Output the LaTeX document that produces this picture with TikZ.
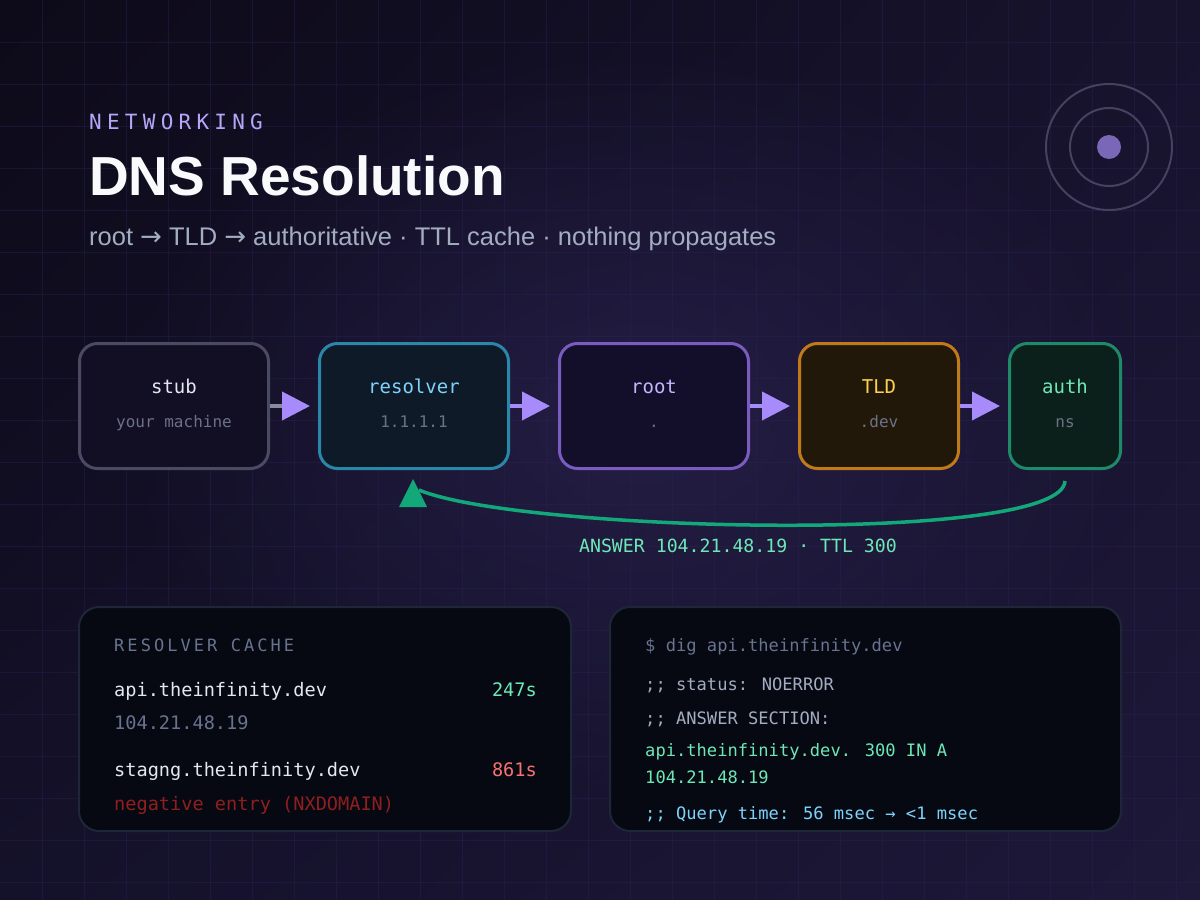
\documentclass[tikz,border=0pt]{standalone}
\usepackage{fontspec}
\setmainfont{Liberation Sans}
\newfontfamily\mono{DejaVu Sans Mono}
\newfontfamily\monoW[LetterSpace=25]{DejaVu Sans Mono}
\newfontfamily\monoM[LetterSpace=18]{DejaVu Sans Mono}
\newfontfamily\symf{DejaVu Sans}
\usetikzlibrary{arrows.meta,fadings,shadings}
\newcommand\fsz[1]{\fontsize{#1}{#1}\selectfont}
\newcommand\rarr{{\symf\fontsize{26}{26}\selectfont →}}
\definecolor{bgA}{HTML}{0D0A19}
\definecolor{bgB}{HTML}{17132D}
\definecolor{bgC}{HTML}{14112A}
\definecolor{bgD}{HTML}{1E1839}
\definecolor{glow}{HTML}{2A2350}
\definecolor{gridc}{HTML}{2A2458}
\definecolor{kicker}{HTML}{B6A6F7}
\definecolor{titlec}{HTML}{F8FAFC}
\definecolor{subc}{HTML}{A3ADC2}
\definecolor{ringc}{HTML}{44425F}
\definecolor{dotc}{HTML}{7B67B8}
\definecolor{stubB}{HTML}{4A4A62}\definecolor{stubF}{HTML}{120E24}\definecolor{stubT}{HTML}{E2E8F0}
\definecolor{resB}{HTML}{2A87A8}\definecolor{resF}{HTML}{0F1A28}\definecolor{resT}{HTML}{7DD3FC}
\definecolor{rootB}{HTML}{7A5CC0}\definecolor{rootF}{HTML}{130F2B}\definecolor{rootT}{HTML}{C4B5FD}
\definecolor{tldB}{HTML}{C07A1A}\definecolor{tldF}{HTML}{22180A}\definecolor{tldT}{HTML}{FCD34D}
\definecolor{authB}{HTML}{1F8A6A}\definecolor{authF}{HTML}{0B201A}\definecolor{authT}{HTML}{6EE7B7}
\definecolor{boxsub}{HTML}{6B7186}
\definecolor{arrowc}{HTML}{A78BFA}
\definecolor{shaftg}{HTML}{8A8A9C}
\definecolor{retc}{HTML}{13A87A}
\definecolor{greenT}{HTML}{6EE7B7}
\definecolor{panelF}{HTML}{060911}
\definecolor{panelB}{HTML}{1E2738}
\definecolor{mutedc}{HTML}{687390}
\definecolor{lightc}{HTML}{E2E8F0}
\definecolor{redT}{HTML}{F87171}
\definecolor{darkred}{HTML}{8F1F1F}
\definecolor{statusc}{HTML}{A3ADC2}
\definecolor{skyT}{HTML}{7DD3FC}
\tikzfading[name=glowfade, inner color=transparent!0, outer color=transparent!100]
\begin{document}
\begin{tikzpicture}[x=1pt,y=-1pt,
  box/.style={draw, rounded corners=18pt, line width=3pt, minimum height=125pt, inner sep=0pt},
  boxtitle/.style={anchor=base, inner sep=0pt, font=\mono\fsz{19}},
  boxsubt/.style={anchor=base, inner sep=0pt, font=\mono\fsz{16}, text=boxsub},
  flow/.style={draw=arrowc, line width=4pt, -{Triangle[length=28pt,width=28pt,color=arrowc]}, shorten >=8pt},
  panel/.style={draw=panelB, fill=panelF, line width=2pt, rounded corners=20pt, inner sep=0pt, minimum height=224pt},
  ptext/.style={anchor=base west, inner sep=0pt, font=\mono\fsz{18.6}},
  dtext/.style={anchor=base west, inner sep=0pt, font=\mono\fsz{17.1}},
  txt/.style={anchor=base west, inner sep=0pt}
]
\useasboundingbox (0,0) rectangle (1200,900);
\begin{scope}
\clip (0,0) rectangle (1200,900);
% background
\shade[upper left=bgA, upper right=bgB, lower left=bgC, lower right=bgD] (0,0) rectangle (1200,900);
\fill[glow, path fading=glowfade, opacity=0.7] (640,420) ellipse (520 and 380);
\foreach \i in {1,...,28} \draw[gridc, line width=1pt, opacity=0.38] (\i*42,0) -- (\i*42,900);
\foreach \j in {1,...,21} \draw[gridc, line width=1pt, opacity=0.38] (0,\j*42) -- (1200,\j*42);
\end{scope}

% header
\node[txt, font=\monoW\fsz{21}, text=kicker] (kick) at (89,129) {NETWORKING};
\node[txt, font=\bfseries\fsz{55}, text=titlec] (title) at (89,195) {DNS Resolution};
\node[txt, font=\fsz{25.5}, text=subc] (subtitle) at (89,245) {root \rarr{} TLD \rarr{} authoritative · TTL cache · nothing propagates};

% rings
\coordinate (ringc) at (1109,147);
\draw[ringc, line width=2pt] (ringc) circle (63);
\draw[ringc, line width=2pt] (ringc) circle (39);
\fill[dotc] (ringc) circle (12);

% boxes
\node[box, draw=stubB, fill=stubF, minimum width=189pt] (stub) at (174,406) {};
\node[box, draw=resB, fill=resF, minimum width=189pt] (resolver) at (414,406) {};
\node[box, draw=rootB, fill=rootF, minimum width=189pt] (root) at (654,406) {};
\node[box, draw=tldB, fill=tldF, minimum width=159pt] (tld) at (879,406) {};
\node[box, draw=authB, fill=authF, minimum width=111pt] (auth) at (1065,406) {};

\node[boxtitle, text=stubT] (stubT) at (174,393) {stub};
\node[boxsubt] (stubS) at (174,427) {your machine};
\node[boxtitle, text=resT] (resT) at (414,393) {resolver};
\node[boxsubt] (resS) at (414,427) {1.1.1.1};
\node[boxtitle, text=rootT] (rootT) at (654,393) {root};
\node[boxsubt] (rootS) at (654,427) {.};
\node[boxtitle, text=tldT] (tldT) at (879,393) {TLD};
\node[boxsubt] (tldS) at (879,427) {.dev};
\node[boxtitle, text=authT] (authT) at (1065,393) {auth};
\node[boxsubt] (authS) at (1065,427) {ns};

% forward arrows
\draw[flow, draw=shaftg] (stub.east) -- (resolver.west);
\draw[flow] (resolver.east) -- (root.west);
\draw[flow] (root.east) -- (tld.west);
\draw[flow] (tld.east) -- (auth.west);

% return path
\coordinate (retStart) at (1065,481);
\coordinate (retEnd) at (419,490);
\coordinate (retTip) at (413,479);
\draw[retc, line width=3.5pt] (retStart) .. controls (1062,545) and (520,532) .. (retEnd);
\fill[retc] (retTip) -- ++(14,28) -- ++(-28,0) -- cycle;
\node[anchor=base, inner sep=0pt, font=\mono\fsz{18.2}, text=greenT] (ans) at (738,552) {ANSWER 104.21.48.19 · TTL 300};

% panels
\node[panel, minimum width=492pt] (cache) at (325,719) {};
\node[panel, minimum width=511pt] (dig) at (865.5,719) {};

\node[txt, font=\monoM\fsz{17}, text=mutedc] (cacheH) at (114,651.5) {RESOLVER CACHE};
\node[ptext, text=lightc] (c1) at (114,696.5) {api.theinfinity.dev};
\node[anchor=base east, inner sep=0pt, font=\mono\fsz{18.6}, text=greenT] (c1t) at (537,696.5) {247s};
\node[ptext, text=mutedc] (c1ip) at (114,729) {104.21.48.19};
\node[ptext, text=lightc] (c2) at (114,776.5) {stagng.theinfinity.dev};
\node[anchor=base east, inner sep=0pt, font=\mono\fsz{18.6}, text=redT] (c2t) at (537,776.5) {861s};
\node[ptext, text=darkred] (c2n) at (114,810) {negative entry (NXDOMAIN)};

\node[dtext, text=mutedc] (d1) at (645,651.5) {\$ dig api.theinfinity.dev};
\node[dtext, text=statusc] (d2) at (645,690.5) {;; status: NOERROR};
\node[dtext, text=statusc] (d3) at (645,724) {;; ANSWER SECTION:};
\node[dtext, text=greenT] (d4) at (645,756) {api.theinfinity.dev. 300 IN A};
\node[dtext, text=greenT] (d5) at (645,783) {104.21.48.19};
\node[dtext, text=skyT] (d6) at (645,819) {;; Query time: 56 msec → <1 msec};
\end{tikzpicture}
\end{document}
